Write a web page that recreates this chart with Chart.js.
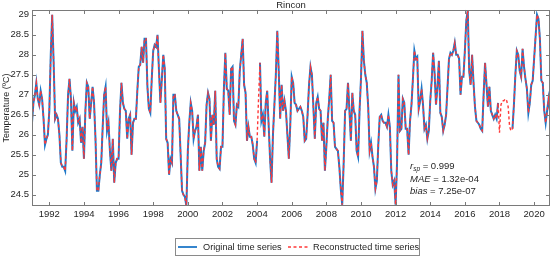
<!DOCTYPE html>
<html>
<head>
<meta charset="utf-8">
<script src="https://cdn.jsdelivr.net/npm/chart.js@4.4.1/dist/chart.umd.min.js"></script>
<style>
  html, body { margin: 0; padding: 0; background: #fff; }
</style>
</head>
<body>
<canvas id="myChart" width="551" height="257"></canvas>
<script>
  // monthly sea temperature, Jan 1991 .. Dec 2020 (null = missing in the original)
  const startYear = 1991;
  const temps = [
    26.3, 26.8, 27.0, 27.3, 26.9, 26.75, 27.1, 26.9, 26.4, 25.75, 25.9, 26.0,      // 1991
    26.6, 28.0, 29.0, 27.8, 26.4, 26.5, 26.4, 26.0, 25.3, 25.2, 25.2, 25.1,        // 1992
    25.9, 27.0, 27.4, 26.9, 25.6, 26.8, 26.6, 26.7, 26.3, 26.4, 25.8, 26.2,        // 1993
    25.4, 26.6, 27.3, 27.2, 26.4, 26.8, 27.2, 26.8, 25.9, 24.6, 24.6, 25.0,        // 1994
    25.3, 26.2, 27.0, 27.2, 26.1, 26.3, 25.6, 25.1, 25.9, 24.8, 25.3, 25.4,        // 1995
    25.4, 26.6, 27.3, 26.8, 26.65, 26.6, 25.9, 26.4, 26.5, 25.5, 26.3, 26.4,       // 1996
    26.4, 27.1, 27.7, 27.75, 28.2, 27.8, 28.4, 28.4, 27.2, 26.65, 26.55, 27.4,     // 1997
    28.1, 28.25, 28.2, 28.5, 27.6, 26.8, 27.4, 28.0, 27.65, 25.9, 25.8, 25.0,      // 1998
    25.4, 25.3, 27.0, 27.0, 26.6, 26.5, 26.4, 25.5, 24.6, 24.5, 24.45, 24.22,      // 1999
    25.6, 26.3, 26.8, 26.6, 25.9, 26.1, 26.2, 26.5, 25.1, 25.7, 25.1, 25.6,        // 2000
    25.8, 26.75, 27.05, 26.9, 25.85, 26.5, 26.25, 27.1, 25.4, 25.2, 25.15, 25.7,   // 2001
    25.7, 27.15, 28.05, 27.15, 27.1, 26.5, 27.65, 27.7, 26.35, 26.25, 26.75, 26.7, // 2002
    27.6, 28.0, 28.4, 27.25, 27.05, 25.85, 26.2, 25.95, 25.95, 25.75, 25.4, 25.3,  // 2003
    25.85, null, 27.8, 26.35, 26.5, 25.95, 26.8, 27.1, 26.25, 25.4, 24.8, 26.0,    // 2004
    26.75, 27.5, 28.6, 27.6, 26.4, 27.25, 26.6, 26.85, 26.6, 26.0, 25.4, 26.25,    // 2005
    27.45, 27.3, 26.8, 26.75, 26.6, 26.65, 26.7, 26.6, 26.45, 25.85, 25.9, 26.5,   // 2006
    27.25, 27.7, 27.5, 26.7, 25.9, 26.8, 26.95, 26.65, 26.6, 25.85, 26.3, 25.1,    // 2007
    25.7, 26.4, 26.9, 27.5, 26.35, 26.3, 25.7, 25.65, 25.6, 25.2, 24.65, 24.25,    // 2008
    25.3, 26.6, 26.65, 27.3, 26.6, 25.85, 27.05, 26.6, 26.5, 25.6, 25.45, 26.6,    // 2009
    27.4, 28.6, 27.85, 27.5, 27.3, 26.7, 25.6, 25.8, 25.45, 25.2, 24.65, 24.85,    // 2010
    25.75, 26.45, 26.5, 26.35, 26.3, 26.3, 26.2, 26.5, 26.2, 25.1, 24.75, 24.85,   // 2011
    24.25, 25.3, 27.5, 26.1, 26.15, 26.9, 26.8, 26.15, 26.15, 25.5, 26.35, 26.75,  // 2012
    27.4, 28.1, 27.9, 27.95, 26.65, 26.85, 27.15, 26.75, 26.15, 26.25, 25.9, 26.1, // 2013
    26.85, 27.35, 28.05, 27.55, 26.75, 27.2, 27.85, 26.55, 26.45, 26.1, 26.25, 26.5, // 2014
    27.2, 27.9, 28.05, 28.0, 28.1, 28.3, 28.0, 28.0, 27.9, 27.0, 27.45, 27.45,     // 2015
    28.1, 28.85, 29.12, 27.6, 27.25, 28.0, 27.3, 26.7, 26.35, 26.3, 26.25, 26.15,  // 2016
    26.1, 27.0, 27.8, 27.25, 26.7, 27.2, 26.6, 26.5, 26.4, 26.5, 26.4, 26.8,       // 2017
    null, null, null, null, null, null, null, null, null, 26.15, 26.75, 27.5,      // 2018
    28.1, 28.0, 27.6, 27.45, 28.15, 27.7, 27.4, 27.15, 26.55, 26.8, 27.25, 27.35,  // 2019
    27.9, 28.45, 29.0, 28.9, 28.4, 27.35, 27.3, 26.6, 26.3, 26.6, 26.9, 26.6       // 2020
  ];
  // values filled in by the reconstruction where the original is missing
  const gapMonths = [157, 324, 325, 326, 327, 328, 329, 330, 331, 332];
  const gapValues = [26.9, 26.05, 26.75, 26.85, 26.85, 26.9, 26.85, 26.7, 26.2, 26.1];

  const xTickYears = [1992, 1994, 1996, 1998, 2000, 2002, 2004, 2006, 2008, 2010, 2012, 2014, 2016, 2018, 2020];
  const yTickValues = [24.5, 25, 25.5, 26, 26.5, 27, 27.5, 28, 28.5, 29];
  const seriesNames = ['Original time series', 'Reconstructed time series'];
  const statNames = ['r', 'MAE', 'bias'];
  const statSubs = ['sp', '', ''];
  const statValues = ['0.999', '1.32e-04', '7.25e-07'];

  const FONT = '"Liberation Sans", Arial, sans-serif';
  const BLUE = '#1f78c8';
  const RED = '#ff3838';
  const INK = '#262626';

  const original = temps.map((v, i) => ({ x: startYear + i / 12, y: v }));
  const filled = temps.slice();
  gapMonths.forEach((m, k) => { filled[m] = gapValues[k]; });
  const reconstructed = filled.map((v, i) => ({ x: startYear + i / 12, y: v }));

  // caixa dos eixos, ticks para dentro, estatisticas e legenda (estilo matlab)
  const matlabStyle = {
    id: 'matlabStyle',
    afterDraw(chart) {
      const { ctx, chartArea: a, scales: { x, y } } = chart;
      ctx.save();
      ctx.strokeStyle = '#7a7a7a';
      ctx.lineWidth = 1;
      ctx.strokeRect(Math.round(a.left) + 0.5, Math.round(a.top) + 0.5,
        Math.round(a.right - a.left) - 1, Math.round(a.bottom - a.top) - 1);
      ctx.beginPath();
      xTickYears.forEach(yr => {
        const px = Math.round(x.getPixelForValue(yr)) + 0.5;
        ctx.moveTo(px, a.bottom); ctx.lineTo(px, a.bottom - 4);
        ctx.moveTo(px, a.top); ctx.lineTo(px, a.top + 4);
      });
      yTickValues.forEach(v => {
        const py = Math.round(y.getPixelForValue(v)) + 0.5;
        ctx.moveTo(a.left, py); ctx.lineTo(a.left + 4, py);
        ctx.moveTo(a.right, py); ctx.lineTo(a.right - 4, py);
      });
      ctx.stroke();

      // estatisticas
      ctx.fillStyle = INK;
      ctx.textBaseline = 'middle';
      ctx.textAlign = 'left';
      const rows = [166, 179, 191];
      statNames.forEach((name, k) => {
        let cx = 410;
        ctx.font = 'italic 9.5px ' + FONT;
        ctx.fillText(name, cx, rows[k]);
        cx += ctx.measureText(name).width;
        if (statSubs[k]) {
          ctx.font = 'italic 6.5px ' + FONT;
          ctx.fillText(statSubs[k], cx, rows[k] + 3);
          cx += ctx.measureText(statSubs[k]).width;
        }
        ctx.font = '9.5px ' + FONT;
        ctx.fillText(' = ' + statValues[k], cx, rows[k]);
      });

      // legenda
      const ly = 247;
      ctx.fillStyle = '#fff';
      ctx.fillRect(175, 239, 244, 17);
      ctx.strokeStyle = '#8a8a8a';
      ctx.strokeRect(175.5, 238.5, 244, 17);
      ctx.lineWidth = 1.8;
      ctx.strokeStyle = BLUE;
      ctx.beginPath(); ctx.moveTo(178, ly); ctx.lineTo(197, ly); ctx.stroke();
      ctx.strokeStyle = RED;
      ctx.lineWidth = 1.5;
      ctx.setLineDash([3, 2.5]);
      ctx.beginPath(); ctx.moveTo(288, ly); ctx.lineTo(309, ly); ctx.stroke();
      ctx.setLineDash([]);
      ctx.fillStyle = INK;
      ctx.font = '9.2px ' + FONT;
      ctx.fillText(seriesNames[0], 203, ly);
      ctx.fillText(seriesNames[1], 313, ly);
      ctx.restore();
    }
  };

  const ctx = document.getElementById('myChart').getContext('2d');
  new Chart(ctx, {
    type: 'line',
    data: {
      datasets: [
        {
          label: seriesNames[0],
          data: original,
          borderColor: BLUE,
          borderWidth: 2,
          pointRadius: 0,
          spanGaps: false,
          order: 2
        },
        {
          label: seriesNames[1],
          data: reconstructed,
          borderColor: RED,
          borderWidth: 1.4,
          borderDash: [3, 2.5],
          pointRadius: 0,
          order: 1
        }
      ]
    },
    options: {
      responsive: false,
      animation: false,
      events: [],
      layout: { padding: { top: 0, right: 1, bottom: 31, left: 0 } },
      plugins: {
        legend: { display: false },
        tooltip: { enabled: false },
        title: {
          display: true,
          text: 'Rincon',
          color: INK,
          fullSize: false,
          font: { size: 9.5, family: FONT, weight: 'normal', lineHeight: 1.05 },
          padding: { top: 0, bottom: 0 }
        }
      },
      scales: {
        x: {
          type: 'linear',
          min: startYear,
          max: startYear + (temps.length - 1) / 12,
          afterBuildTicks: s => { s.ticks = xTickYears.map(v => ({ value: v })); },
          afterFit: s => { s.height = 20; },
          grid: { display: false, drawTicks: false },
          border: { display: false },
          ticks: {
            color: INK,
            padding: 3,
            maxRotation: 0,
            autoSkip: false,
            font: { size: 9.5, family: FONT },
            callback: v => String(v)
          }
        },
        y: {
          min: 24.22,
          max: 29.12,
          afterBuildTicks: s => { s.ticks = yTickValues.map(v => ({ value: v })); },
          afterFit: s => { s.width = 32; },
          grid: { display: false, drawTicks: false },
          border: { display: false },
          title: {
            display: true,
            text: 'Temperature (ºC)',
            color: INK,
            font: { size: 9, family: FONT },
            padding: { top: 1, bottom: 0 }
          },
          ticks: {
            color: INK,
            padding: 3,
            font: { size: 9.5, family: FONT },
            callback: v => String(v)
          }
        }
      }
    },
    plugins: [matlabStyle]
  });
</script>
</body>
</html>
